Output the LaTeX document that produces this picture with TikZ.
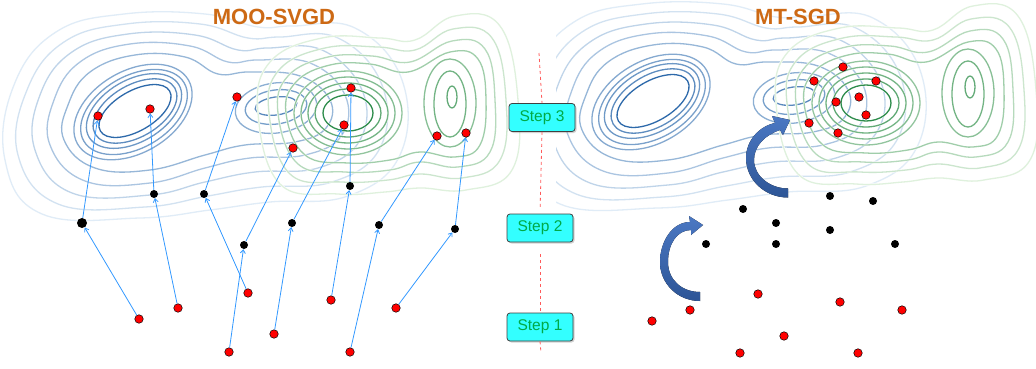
\documentclass[tikz,border=0pt]{standalone}
\usepackage{fontspec}
\setmainfont{Liberation Sans}
\usetikzlibrary{arrows.meta,shadows}
\definecolor{cblue}{RGB}{45,105,170}
\definecolor{lblue}{RGB}{228,239,249}
\definecolor{cgreen}{RGB}{45,140,75}
\definecolor{lgreen}{RGB}{228,244,226}
\definecolor{arrowblue}{RGB}{51,153,255}
\definecolor{stepcyan}{RGB}{51,255,255}
\definecolor{stepgreen}{RGB}{0,170,70}
\definecolor{titleorange}{RGB}{205,105,20}
\definecolor{dashred}{RGB}{255,90,90}
\definecolor{bigarrowA}{RGB}{75,120,195}
\definecolor{bigarrowB}{RGB}{45,85,150}
\tikzset{
  ct/.style={line width=0.45pt,draw=white,double=#1,double distance=1.3pt},
  rdot/.style={circle,draw=black,line width=0.5pt,fill=red,inner sep=0pt,minimum size=8.5pt},
  bdot/.style={circle,fill=black,inner sep=0pt,minimum size=8pt},
  bigbdot/.style={bdot,minimum size=10pt},
  flow/.style={draw=arrowblue,line width=0.8pt,-{Straight Barb[length=3.5pt,width=5pt]}},
  stepbox/.style={rectangle,rounded corners=3pt,draw=black!75,line width=0.8pt,fill=stepcyan,
    text=stepgreen,minimum width=66pt,minimum height=28pt,font=\fontsize{15.5}{15.5}\selectfont,
    drop shadow={opacity=0.35,shadow xshift=1.5pt,shadow yshift=-1.5pt}},
  titletext/.style={text=titleorange,font=\bfseries\fontsize{22}{22}\selectfont},
  redline/.style={draw=dashred,line width=0.8pt,dash pattern=on 3pt off 3pt},
  bigarrow/.style={top color=bigarrowA,bottom color=bigarrowB,draw=none}
}
\newcommand\ctell[6]{%
  \begin{scope}[shift={(#2,#3)},rotate=#4]
    \draw[ct=#1] (0,0) ellipse [x radius=#5, y radius=#6];
  \end{scope}}
\newcommand\mycontours{%
  % blue merged levels (outer to inner)
  \draw[ct=cblue!2!lblue] plot[smooth cycle,tension=0.7] coordinates {(5,160) (14,85) (56,32) (124,14) (205,14) (258,27) (293,26) (355,28) (402,80) (400,155) (348,196) (270,202) (210,210) (140,218) (42,214)};
  \draw[ct=cblue!10!lblue] plot[smooth cycle,tension=0.7] coordinates {(18,155) (27,90) (64,42) (126,24) (200,24) (248,38) (280,37) (338,38) (382,85) (380,148) (332,182) (262,187) (208,196) (145,207) (58,204)};
  \draw[ct=cblue!20!lblue] plot[smooth cycle,tension=0.7] coordinates {(35,150) (40,95) (72,52) (128,34) (195,35) (238,50) (268,48) (322,50) (362,90) (360,140) (318,168) (255,172) (205,182) (150,195) (72,193)};
  \draw[ct=cblue!31!lblue] plot[smooth cycle,tension=0.7] coordinates {(50,145) (54,100) (80,62) (130,44) (190,46) (228,62) (258,60) (310,63) (345,95) (342,135) (305,155) (250,158) (205,168) (150,183) (85,181)};
  \draw[ct=cblue!42!lblue] plot[smooth cycle,tension=0.7] coordinates {(64,140) (68,105) (90,72) (135,55) (185,57) (218,74) (250,72) (300,76) (330,100) (326,128) (295,142) (245,145) (205,155) (150,170) (95,168)};
  % blue mode 1
  \ctell{cblue!52!lblue}{133}{112}{30}{64}{41}
  \ctell{cblue!58!lblue}{134}{112}{30}{58}{36}
  \ctell{cblue!65!lblue}{134}{111}{30}{52}{31}
  \ctell{cblue!74!lblue}{135}{111}{30}{46}{26}
  \ctell{cblue}{135}{111}{30}{40}{20}
  % blue mode 2
  \ctell{cblue!48!lblue}{276}{108}{8}{41}{25}
  \ctell{cblue!60!lblue}{276}{107}{8}{31}{17}
  \ctell{cblue!76!lblue}{276}{106}{8}{21}{9}
  % green merged levels
  \draw[ct=cgreen!3!lgreen] plot[smooth cycle,tension=0.7] coordinates {(258,113) (270,62) (322,38) (380,38) (415,40) (455,16) (500,26) (518,100) (512,170) (466,190) (420,188) (385,192) (338,194) (280,184)};
  \draw[ct=cgreen!13!lgreen] plot[smooth cycle,tension=0.7] coordinates {(269,113) (279,70) (325,48) (378,47) (415,50) (453,29) (492,38) (506,100) (500,160) (462,178) (420,174) (388,180) (342,182) (290,174)};
  \draw[ct=cgreen!25!lgreen] plot[smooth cycle,tension=0.7] coordinates {(278,113) (288,76) (328,57) (372,56) (410,62) (452,41) (485,49) (495,100) (490,152) (458,167) (420,162) (390,170) (345,172) (298,164)};
  \draw[ct=cgreen!37!lgreen] plot[smooth cycle,tension=0.7] coordinates {(286,113) (296,82) (330,65) (370,64) (408,72) (450,52) (478,59) (486,100) (480,145) (455,157) (420,152) (390,160) (348,163) (305,155)};
  % green mode 1
  \ctell{cgreen!45!lgreen}{348}{113}{0}{54}{42}
  \ctell{cgreen!53!lgreen}{348}{113}{0}{47}{36}
  \ctell{cgreen!62!lgreen}{348}{113}{0}{40}{30}
  \ctell{cgreen!72!lgreen}{348}{113}{0}{33}{24}
  \ctell{cgreen}{348}{113}{0}{25}{18}
  % green mode 2
  \ctell{cgreen!50!lgreen}{450}{103}{0}{26}{44}
  \ctell{cgreen!62!lgreen}{450}{104}{0}{16}{33}
  \ctell{cgreen!70!lgreen}{452}{97}{0}{5}{11}
}
\begin{document}
\begin{tikzpicture}[x=1pt,y=-1pt]
\useasboundingbox (0,0) rectangle (1036,369);
\fill[white] (0,0) rectangle (1036,369);
% contours
\begin{scope}
  \clip (0,0) rectangle (528,369);
  \mycontours
\end{scope}
\begin{scope}
  \clip (556,0) rectangle (1036,369);
  \begin{scope}[shift={(518,-10)}]
    \mycontours
  \end{scope}
\end{scope}
% titles
\node[titletext] (t1) at (274,17) {MOO-SVGD};
\node[titletext] (t2) at (798,17) {MT-SGD};
% step boxes and separator
\node[stepbox] (s3) at (542,117.5) {Step 3};
\node[stepbox] (s2) at (540,228) {Step 2};
\node[stepbox] (s1) at (540,327) {Step 1};
\coordinate (ltop) at (539,53);
\coordinate (lbot) at (541,353);
\draw[redline] (ltop) -- (s3.north);
\draw[redline,shorten >=6pt] (s3.south) -- (s2.north);
\draw[redline,shorten <=12pt] (s2.south) -- (s1.north);
\draw[redline] (s1.south) -- (lbot);
% left panel: step 1
\node[rdot] (R1) at (139,319) {};
\node[rdot] (R2) at (178,308) {};
\node[rdot] (R3) at (248,293) {};
\node[rdot] (R4) at (229,352) {};
\node[rdot] (R5) at (274,334) {};
\node[rdot] (R6) at (331,300) {};
\node[rdot] (R7) at (350,352) {};
\node[rdot] (R8) at (396,308) {};
% left panel: step 2
\node[bigbdot] (B1) at (82,223) {};
\node[bdot] (B2) at (154,194) {};
\node[bdot] (B3) at (204,194) {};
\node[bdot] (B4) at (244,245) {};
\node[bdot] (B5) at (292,223) {};
\node[bdot] (B6) at (350,186) {};
\node[bdot] (B7) at (379,225) {};
\node[bdot] (B8) at (455,229) {};
% left panel: step 3
\node[rdot] (T1) at (98,116) {};
\node[rdot] (T2) at (150,109) {};
\node[rdot] (T3) at (237,97) {};
\node[rdot] (T4) at (293,148) {};
\node[rdot] (T5) at (351,88) {};
\node[rdot] (T6) at (344,125) {};
\node[rdot] (T7) at (437,136) {};
\node[rdot] (T8) at (466,133) {};
% left panel arrows
\draw[flow] (R1) -- (B1);
\draw[flow] (R2) -- (B2);
\draw[flow] (R3) -- (B3);
\draw[flow] (R4) -- (B4);
\draw[flow] (R5) -- (B5);
\draw[flow] (R6) -- (B6);
\draw[flow] (R7) -- (B7);
\draw[flow] (R8) -- (B8);
\draw[flow] (B1) -- (T1);
\draw[flow] (B2) -- (T2);
\draw[flow] (B3) -- (T3);
\draw[flow] (B4) -- (T4);
\draw[flow] (B5) -- (T6);
\draw[flow] (B6) -- (T5);
\draw[flow] (B7) -- (T7);
\draw[flow] (B8) -- (T8);
% right panel: step 1
\node[rdot] (r1) at (758,294) {};
\node[rdot] (r2) at (690,310) {};
\node[rdot] (r3) at (652,321) {};
\node[rdot] (r4) at (840,302) {};
\node[rdot] (r5) at (902,310) {};
\node[rdot] (r6) at (784,336) {};
\node[rdot] (r7) at (740,353) {};
\node[rdot] (r8) at (858,353) {};
% right panel: step 2
\node[bdot] (b1) at (830,196) {};
\node[bdot] (b2) at (873,201) {};
\node[bdot] (b3) at (743,209) {};
\node[bdot] (b4) at (776,223) {};
\node[bdot] (b5) at (830,230) {};
\node[bdot] (b6) at (706,244) {};
\node[bdot] (b7) at (776,244) {};
\node[bdot] (b8) at (895,244) {};
% right panel: step 3
\node[rdot] (u1) at (843,67) {};
\node[rdot] (u2) at (814,81) {};
\node[rdot] (u3) at (876,81) {};
\node[rdot] (u4) at (859,97) {};
\node[rdot] (u5) at (836,102) {};
\node[rdot] (u6) at (866,115) {};
\node[rdot] (u7) at (809,123) {};
\node[rdot] (u8) at (838,133) {};
% big curved arrows
\fill[bigarrow] (700,301) .. controls (678,301) and (660,284) .. (660,262)
  .. controls (660,242) and (672,222) .. (690,222)
  -- (689,216) -- (703,225) -- (691,235) -- (691,230)
  .. controls (677,230) and (668,244) .. (668,262)
  .. controls (668,280) and (682,292) .. (700,292) -- cycle;
\fill[bigarrow] (788,197.5) .. controls (765,197.5) and (746,180) .. (746,158)
  .. controls (746,140) and (760,126) .. (775,123)
  -- (772,116) -- (790,120) -- (783,135) -- (780,130)
  .. controls (765,135) and (754,146) .. (754,160)
  .. controls (754,176) and (770,188.5) .. (788,188.5) -- cycle;
\end{tikzpicture}
\end{document}
